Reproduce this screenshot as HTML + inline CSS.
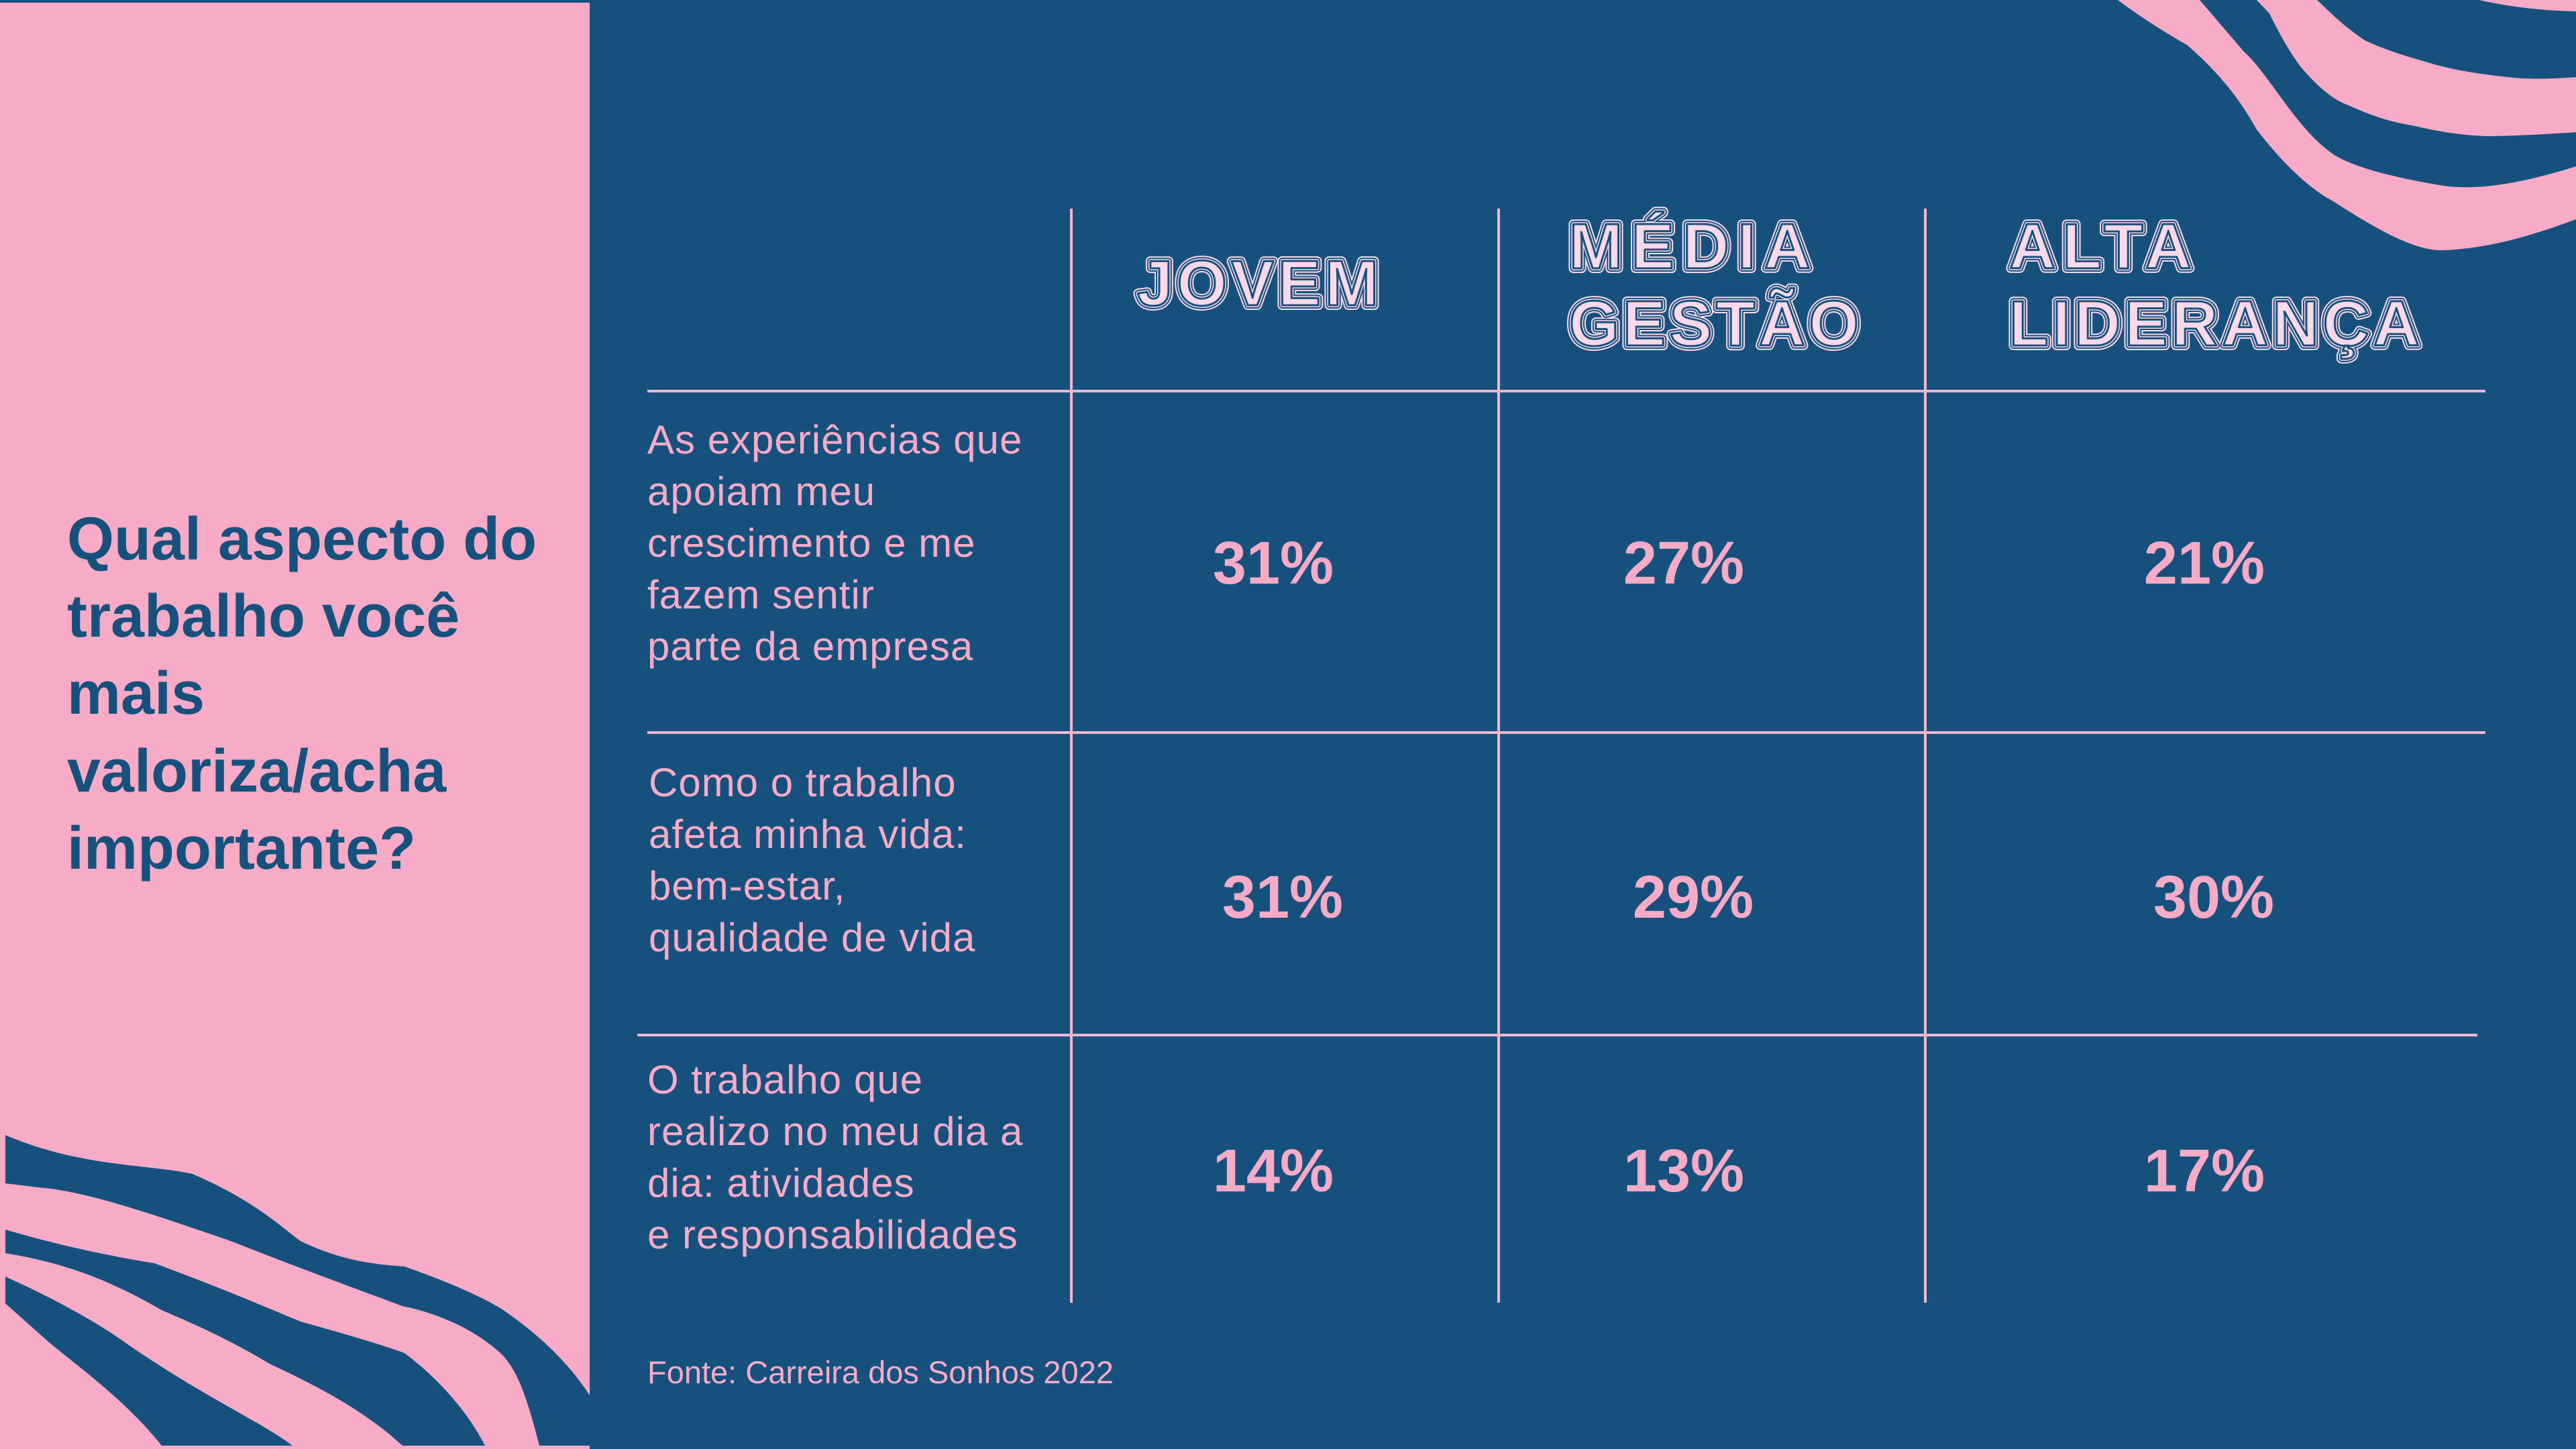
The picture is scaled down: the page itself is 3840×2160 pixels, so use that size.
<!DOCTYPE html>
<html><head><meta charset="utf-8"><style>
html,body{margin:0;padding:0;width:3840px;height:2160px;overflow:hidden;background:#16517e;}
svg{display:block}
</style></head><body>
<svg id="chart" width="3840" height="2160" viewBox="0 0 3840 2160" xmlns="http://www.w3.org/2000/svg">
<rect x="0" y="0" width="3840" height="2160" fill="#16517e"/>
<rect x="0" y="4" width="879" height="2156" fill="#f7abc6"/>
<g fill="#16517e">
<path d="M8,1692 C120,1740 220,1735 287,1750 C380,1790 420,1830 448,1850 C510,1880 560,1885 603,1888 C680,1915 720,1935 746,1950 C820,2000 860,2050 879,2080 L879,2155 L804,2155 C785,2080 770,2040 746,2017 C700,1975 640,1955 600,1947 C500,1910 420,1880 344,1850 C200,1800 120,1775 57,1770 L8,1764 Z"/>
<path d="M8,1833 C100,1860 180,1875 230,1883 C330,1920 400,1950 448,1970 C520,1990 570,2005 603,2017 C660,2060 700,2110 723,2155 L600,2155 C540,2100 470,2065 402,2033 C330,1990 280,1970 241,1953 C150,1900 80,1880 8,1868 Z"/>
<path d="M8,1903 C90,1940 150,1975 189,2003 C300,2080 390,2120 436,2155 L241,2155 C190,2090 120,2040 72,2000 L8,1943 Z"/>
</g>
<g fill="#f7abc6">
<path d="M3157,0 C3190,25 3230,50 3260,67 C3310,110 3340,150 3364,193 C3400,240 3440,280 3478,300 C3540,340 3600,375 3643,373 C3720,370 3790,345 3840,327 L3840,248 C3770,270 3700,285 3643,277 C3570,265 3510,250 3478,230 C3450,210 3430,185 3411,160 C3385,125 3365,95 3345,77 L3279,0 Z"/>
<path d="M3364,0 L3383,20 C3400,55 3415,80 3430,100 C3455,130 3480,150 3501,157 C3540,175 3570,183 3596,187 C3650,200 3690,203 3714,203 C3770,202 3810,199 3840,197 L3840,115 C3810,117 3790,118 3761,117 C3700,112 3650,103 3619,93 C3580,82 3550,72 3525,60 C3495,40 3475,20 3454,0 Z"/>
<path d="M3695,0 C3740,10 3790,16 3840,17 L3840,0 Z"/>
</g>
<g font-family="'Liberation Sans', sans-serif" font-weight="bold" font-size="90" fill="#16517e">
<text x="100" y="834">Qual aspecto do</text>
<text x="100" y="949">trabalho você</text>
<text x="100" y="1064">mais</text>
<text x="100" y="1180">valoriza/acha</text>
<text x="100" y="1295">importante?</text>
</g>
<g stroke="#f3b6cf" stroke-width="4">
<line x1="1597" y1="311" x2="1597" y2="1942"/>
<line x1="2234" y1="311" x2="2234" y2="1942"/>
<line x1="2870" y1="311" x2="2870" y2="1942"/>
<line x1="965" y1="583" x2="3705" y2="583"/>
<line x1="965" y1="1092" x2="3705" y2="1092"/>
<line x1="950" y1="1543" x2="3693" y2="1543"/>
</g>
<g id="headers" font-family="'Liberation Sans', sans-serif" font-weight="bold" font-size="96"></g>
<g font-family="'Liberation Sans', sans-serif" font-size="60" letter-spacing="1" fill="#f7abc6">
<g>
<text x="965" y="676">As experiências que</text><text x="965" y="753">apoiam meu</text><text x="965" y="830">crescimento e me</text><text x="965" y="907">fazem sentir</text><text x="965" y="984">parte da empresa</text></g>
<g>
<text x="967" y="1187">Como o trabalho</text><text x="967" y="1264">afeta minha vida:</text><text x="967" y="1341">bem-estar,</text><text x="967" y="1418">qualidade de vida</text></g>
<g>
<text x="965" y="1630">O trabalho que</text><text x="965" y="1707">realizo no meu dia a</text><text x="965" y="1784">dia: atividades</text><text x="965" y="1861">e responsabilidades</text></g>
</g>
<g id="values" font-family="'Liberation Sans', sans-serif" font-weight="bold" font-size="90" fill="#f7abc6" text-anchor="middle"></g>
<text x="965" y="2062" font-family="'Liberation Sans', sans-serif" font-size="47" fill="#f7abc6">Fonte: Carreira dos Sonhos 2022</text>
</svg>
<script>
const groups = ["JOVEM", "MÉDIA GESTÃO", "ALTA LIDERANÇA"];
const jovem = [31, 31, 14];
const media = [27, 29, 13];
const alta = [21, 30, 17];
const series = [jovem, media, alta];
const NS = "http://www.w3.org/2000/svg";
const colCenters = [1898, 2510, 3286];
const rowCenters = [838, 1336, 1744];
function colX(c, r) { return colCenters[c] + (r === 1 ? 14 : 0); }
function rowY(r) { return rowCenters[r] + 32; }
const vg = document.getElementById('values');
series.forEach((vals, c) => {
  vals.forEach((v, r) => {
    const t = document.createElementNS(NS, 'text');
    t.setAttribute('x', colX(c, r));
    t.setAttribute('y', rowY(r));
    t.textContent = v + '%';
    
    
    vg.appendChild(t);
  });
});
const hg = document.getElementById('headers');
const headerLayout = [
  { x: 1695, lines: [groups[0]], ys: [455], w: 72 },
  { x: 2339, lines: groups[1].split(' '), ys: [400, 515], w: 72 },
  { x: 2995, lines: groups[2].split(' '), ys: [400, 515], w: 68 }
];
const layers = [[14, '#fbd9e8'], [10, '#16517e'], [6, '#fbd9e8'], [3, '#16517e']];
headerLayout.forEach((h, i) => {
  const g = document.createElementNS(NS, 'g');
  
  
  h.lines.forEach((ln, k) => {
    layers.forEach(([w, col]) => {
      const t = document.createElementNS(NS, 'text');
      t.setAttribute('x', h.x);
      t.setAttribute('y', h.ys[k]);
      t.setAttribute('fill', '#fbd9e8');
      t.setAttribute('stroke', col);
      t.setAttribute('stroke-width', w);
      t.setAttribute('stroke-linejoin', 'round');
      t.setAttribute('textLength', ln.length * h.w);
      t.textContent = ln;
      g.appendChild(t);
    });
  });
  hg.appendChild(g);
});
</script>
</body></html>
